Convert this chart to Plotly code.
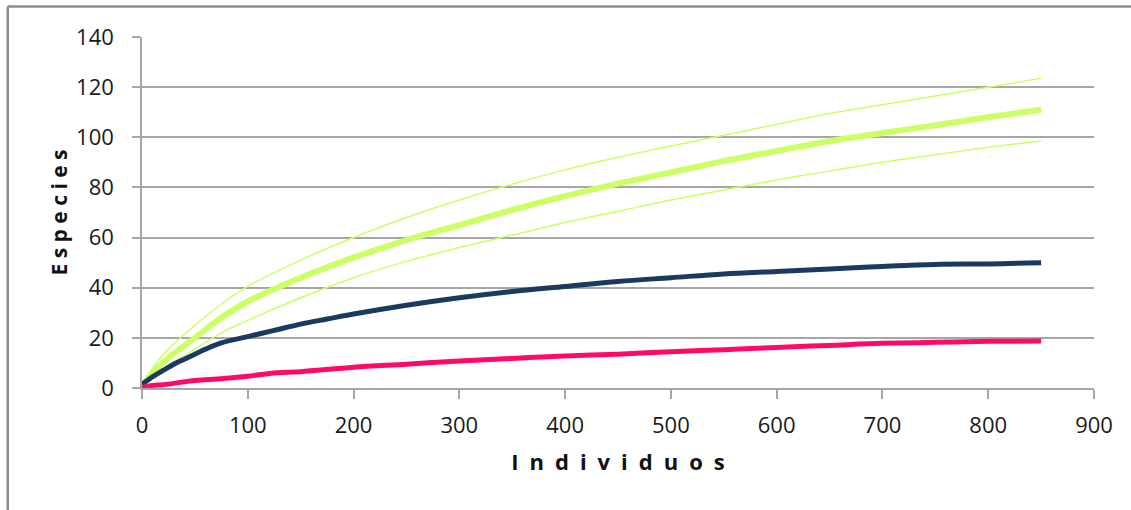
import plotly.graph_objects as go

# ---- data ----
green_x = [0, 10, 25, 50, 75, 100, 150, 200, 250, 300, 350, 400, 450, 500, 550, 600, 650, 700, 750, 800, 850]
green_mean = [1, 6, 12, 20, 28, 34.5, 44, 52, 59, 65, 71, 76.5, 81.5, 86, 90.5, 94.5, 98.5, 101.7, 104.8, 108, 111]
green_upper = [1, 8, 15.5, 25, 33.5, 40.5, 51, 60, 68, 75, 81.3, 87, 92, 96.5, 100.8, 105.2, 109.5, 113, 116.5, 120, 123.5]
green_lower = [1, 4.5, 9, 15.5, 22, 27, 36, 44, 50.5, 56, 61, 66, 70.5, 75, 79, 83, 86.5, 90, 93, 96, 98.5]

navy_x = [0, 5, 10, 20, 30, 40, 50, 60, 75, 100, 125, 150, 175, 200, 250, 300, 350, 400, 450, 500, 550, 600, 650, 700, 750, 800, 850]
navy_y = [1.5, 3, 4.5, 7, 9.5, 11.5, 13.5, 15.5, 18, 20.5, 23, 25.5, 27.5, 29.5, 33, 36, 38.5, 40.5, 42.5, 44, 45.5, 46.5, 47.5, 48.5, 49.3, 49.5, 50]

pink_x = [0, 10, 20, 50, 75, 100, 125, 150, 200, 250, 300, 350, 400, 450, 500, 550, 600, 650, 700, 750, 800, 850]
pink_y = [0, 1, 1.3, 3, 3.7, 4.7, 6, 6.5, 8.3, 9.5, 10.8, 11.8, 12.8, 13.5, 14.5, 15.3, 16.2, 17, 17.8, 18.2, 18.6, 18.7]

x_ticks = [0, 100, 200, 300, 400, 500, 600, 700, 800, 900]
y_ticks = [0, 20, 40, 60, 80, 100, 120, 140]

GREEN = "#CCFF66"
NAVY = "#1B3A5F"
PINK = "#FF0A66"
GRID = "#A6A6A6"
FONT = "Open Sans"

fig = go.Figure()
fig.add_trace(go.Scatter(x=green_x, y=green_upper, mode="lines", line=dict(color=GREEN, width=1.5, shape="spline")))
fig.add_trace(go.Scatter(x=green_x, y=green_lower, mode="lines", line=dict(color=GREEN, width=1.5, shape="spline")))
fig.add_trace(go.Scatter(x=green_x, y=green_mean, mode="lines", line=dict(color=GREEN, width=6, shape="spline")))
fig.add_trace(go.Scatter(x=navy_x, y=navy_y, mode="lines", line=dict(color=NAVY, width=5, shape="spline")))
fig.add_trace(go.Scatter(x=pink_x, y=pink_y, mode="lines", line=dict(color=PINK, width=5, shape="spline")))

fig.update_layout(
    width=1131, height=510,
    margin=dict(l=142, r=37, t=37, b=122),
    paper_bgcolor="white", plot_bgcolor="white",
    showlegend=False,
    font=dict(family=FONT, size=22, color="#1a1a1a"),
    shapes=[
        dict(type="line", xref="paper", yref="paper", x0=-0.141, x1=1.1, y0=1.087, y1=1.087,
             line=dict(color="#8C8C8C", width=2.5)),
        dict(type="line", xref="paper", yref="paper", x0=-0.141, x1=-0.141, y0=1.087, y1=-0.4,
             line=dict(color="#8C8C8C", width=2.5)),
    ],
)
fig.update_xaxes(
    range=[0, 900], tickvals=x_ticks, showgrid=False, zeroline=False,
    showline=True, linecolor=GRID, linewidth=1.5,
    ticks="outside", ticklen=9, tickcolor=GRID, tickwidth=1.5,
    tickfont=dict(family=FONT, size=22, color="#1a1a1a"),
    ticklabelstandoff=8,
    title=dict(text="<b>I\u2002n\u2002d\u2002i\u2002v\u2002i\u2002d\u2002u\u2002o\u2002s</b>",
               font=dict(family=FONT, size=22, color="#111"), standoff=16),
)
fig.update_yaxes(
    range=[0, 140], tickvals=y_ticks, showgrid=True, gridcolor=GRID, gridwidth=1.5, zeroline=False,
    showline=True, linecolor=GRID, linewidth=1.5,
    ticks="outside", ticklen=8, tickcolor=GRID, tickwidth=1.5,
    tickfont=dict(family=FONT, size=22, color="#1a1a1a"),
    ticklabelstandoff=14,
    title=dict(text="<b>E s p e c i e s</b>", font=dict(family=FONT, size=21, color="#111"), standoff=3),
)

fig.write_html("out.html")
